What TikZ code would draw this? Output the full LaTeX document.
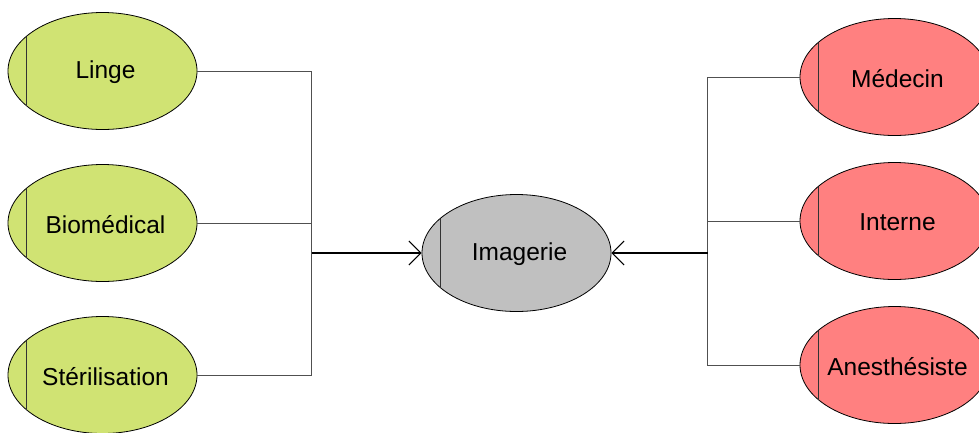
\documentclass[tikz,border=0pt]{standalone}
\usepackage{fontspec}
\setmainfont{Liberation Sans}
\usetikzlibrary{shapes.geometric,arrows.meta}
\definecolor{lgreen}{RGB}{208,227,115}
\definecolor{lred}{RGB}{255,128,128}
\definecolor{lgray}{RGB}{192,192,192}
\definecolor{conncol}{RGB}{80,80,80}
\tikzset{
  ell/.style={ellipse, draw=black, line width=0.8pt, minimum width=189pt, minimum height=117pt, inner sep=0pt,
    label={[font=\fontsize{24.5}{28}\selectfont, xshift=3pt, yshift=-1.5pt]center:#1}},
  conn/.style={draw=conncol, line width=1pt},
  arr/.style={draw=black, line width=1.2pt, -{Straight Barb[length=12pt,width=24pt,line width=1pt]}},
  chord/.style={draw=black!80, line width=1pt}
}
\begin{document}
\begin{tikzpicture}[x=1pt,y=-1pt]
\useasboundingbox (0,0) rectangle (979,432);
\clip (0,0) rectangle (979,432);
\node[ell=Linge, fill=lgreen] (linge) at (102.5,71) {};
\node[ell=Biomédical, fill=lgreen] (bio) at (102.5,223) {};
\node[ell=Stérilisation, fill=lgreen] (ster) at (102.5,375) {};
\node[ell=Imagerie, fill=lgray] (img) at (516.5,253) {};
\node[ell=Médecin, fill=lred] (med) at (894.5,77) {};
\node[ell=Interne, fill=lred] (int) at (894.5,221) {};
\node[ell=Anesthésiste, fill=lred] (ane) at (894.5,365) {};
\foreach \n in {linge,bio,ster,img,med,int,ane}{
  \draw[chord] ([shift={(18.5,-34.5)}]\n.west) -- ([shift={(18.5,34.5)}]\n.west);
}
\coordinate (lj) at (311.5,253);
\coordinate (rj) at (707.5,253);
\draw[conn] (linge.east) -| (lj);
\draw[conn] (ster.east) -| (lj);
\draw[conn] (bio.east) -- (bio.east -| lj);
\draw[arr] (lj) -- (img.west);
\draw[conn] (med.west) -| (rj);
\draw[conn] (ane.west) -| (rj);
\draw[conn] (int.west) -- (int.west -| rj);
\draw[arr] (rj) -- (img.east);
\end{tikzpicture}
\end{document}
